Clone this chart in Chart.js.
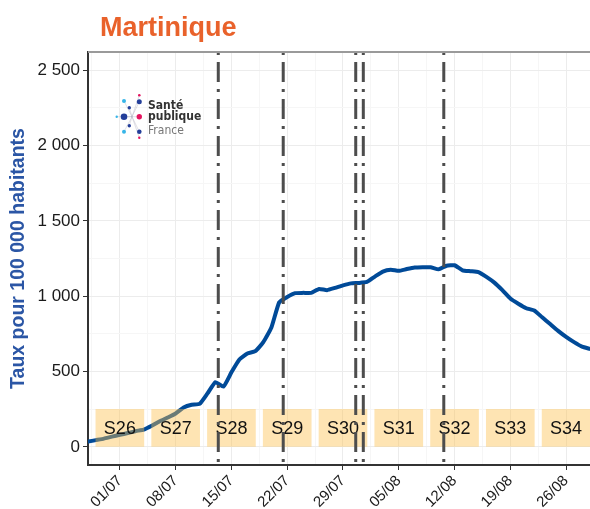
<!DOCTYPE html>
<html>
<head>
<meta charset="utf-8">
<script src="https://cdn.jsdelivr.net/npm/chart.js@4/dist/chart.umd.min.js"></script>
<style>
  body { margin: 0; background: #fff; }
  #wrap { width: 590px; height: 509px; }
</style>
</head>
<body>
<div id="wrap"><canvas id="chart" width="590" height="509"></canvas></div>
<script>
// day 0 = 01/07, first value is 27/06
const firstDay = -4;
const rates = [
  35, 45, 55, 68, 80, 92, 105, 115, 140, 170, 195, 222, 262, 280, 285, 355,
  430, 400, 495, 580, 620, 635, 695, 790, 960, 995, 1020, 1022, 1022, 1048, 1040, 1055,
  1072, 1085, 1088, 1095, 1130, 1163, 1175, 1168, 1180, 1190, 1192, 1192, 1178, 1202, 1205, 1172,
  1166, 1160, 1128, 1090, 1040, 985, 950, 920, 905, 860, 815, 770, 730, 695, 665, 650
];

const dateTicks = [0, 7, 14, 21, 28, 35, 42, 49, 56];
const dateLabels = ['01/07', '08/07', '15/07', '22/07', '29/07', '05/08', '12/08', '19/08', '26/08'];

const weekCenters = [0, 7, 14, 21, 28, 35, 42, 49, 56];
const weekLabels = ['S26', 'S27', 'S28', 'S29', 'S30', 'S31', 'S32', 'S33', 'S34'];
const weekBand = [0, 250];

const yTicks = [0, 500, 1000, 1500, 2000, 2500];

// dates of the dash-dot markers (days from 01/07)
const markerDays = [12.35, 20.5, 29.6, 30.55, 40.65];

const BLUE = '#004a98';

function fmt(v) {
  return String(v).replace(/\B(?=(\d{3})+(?!\d))/g, ' ');
}

const overlay = {
  id: 'overlay',
  afterDatasetsDraw(chart) {
    const ctx = chart.ctx;
    const x = chart.scales.x;
    const area = chart.chartArea;

    // week labels on boxes
    const meta = chart.getDatasetMeta(0);
    ctx.save();
    ctx.fillStyle = '#111';
    ctx.font = '18px "Liberation Sans", Arial, sans-serif';
    ctx.textAlign = 'center';
    ctx.textBaseline = 'middle';
    meta.data.forEach((el, i) => {
      ctx.fillText(weekLabels[i], el.x, (el.y + el.base) / 2 + 1);
    });
    ctx.restore();

    // dash-dot markers
    ctx.save();
    ctx.strokeStyle = '#4d4d4d';
    ctx.lineWidth = 3;
    ctx.setLineDash([3, 7, 20, 7]);
    markerDays.forEach(d => {
      const px = x.getPixelForValue(d);
      ctx.beginPath();
      ctx.moveTo(px, area.top);
      ctx.lineTo(px, area.bottom);
      ctx.stroke();
    });
    ctx.restore();

    // top panel border
    ctx.save();
    ctx.strokeStyle = '#9a9a9a';
    ctx.lineWidth = 2;
    ctx.beginPath();
    ctx.moveTo(area.left, area.top);
    ctx.lineTo(area.right, area.top);
    ctx.stroke();
    ctx.restore();
  },
  afterDraw(chart) {
    const ctx = chart.ctx;
    ctx.save();
    // title
    ctx.fillStyle = '#e9622b';
    ctx.font = 'bold 27px "Liberation Sans", Arial, sans-serif';
    ctx.textBaseline = 'alphabetic';
    ctx.fillText('Martinique', 100, 36);

    // logo
    const dots = [
      [124, 101, 2, '#36b5e8'], [139.3, 101.7, 2.5, '#243f9a'], [139.3, 95.3, 1.3, '#e4145f'],
      [129.3, 107.7, 1.7, '#243f9a'], [116.7, 116.7, 1.2, '#36b5e8'], [124, 116.7, 3.3, '#243f9a'],
      [139.3, 116.7, 2.7, '#e4145f'], [129.3, 125.7, 1.7, '#243f9a'], [124, 131.7, 2, '#36b5e8'],
      [139.3, 131.7, 2.3, '#243f9a'], [139.3, 137.7, 1.2, '#e4145f']
    ];
    ctx.strokeStyle = 'rgba(150,150,170,0.5)';
    ctx.lineWidth = 0.6;
    dots.forEach(d => {
      ctx.beginPath();
      ctx.moveTo(132, 116.7);
      ctx.lineTo(d[0], d[1]);
      ctx.stroke();
    });
    dots.forEach(d => {
      ctx.fillStyle = d[3];
      ctx.beginPath();
      ctx.arc(d[0], d[1], d[2], 0, Math.PI * 2);
      ctx.fill();
    });
    ctx.textBaseline = 'middle';
    ctx.fillStyle = '#333';
    ctx.font = 'bold 12px "DejaVu Sans Condensed", "Liberation Sans Narrow", sans-serif';
    ctx.fillText('Santé', 148, 105.5);
    ctx.fillText('publique', 148, 117);
    ctx.fillStyle = '#777';
    ctx.font = '12px "DejaVu Sans Condensed", "Liberation Sans Narrow", sans-serif';
    ctx.fillText('France', 148, 130.5);
    ctx.restore();
  }
};

new Chart(document.getElementById('chart'), {
  data: {
    datasets: [
      {
        type: 'bar',
        order: 0,
        data: weekCenters.map(c => ({ x: c, y: weekBand })),
        backgroundColor: 'rgba(252, 191, 73, 0.42)',
        borderWidth: 0,
        barThickness: 48
      },
      {
        type: 'line',
        order: 1,
        data: rates.map((v, i) => ({ x: firstDay + i, y: v })),
        borderColor: BLUE,
        borderWidth: 4,
        pointRadius: 0,
        tension: 0.15,
        borderJoinStyle: 'round',
        borderCapStyle: 'round'
      }
    ]
  },
  options: {
    responsive: false,
    animation: false,
    layout: { padding: { top: 52, right: 0, left: 0, bottom: 0 } },
    plugins: {
      legend: { display: false },
      title: { display: false },
      tooltip: { enabled: false }
    },
    scales: {
      x: {
        type: 'linear',
        min: -4,
        max: 59,
        offset: false,
        afterFit(scale) { scale.height = 44; },
        afterBuildTicks(scale) {
          const t = [];
          for (let v = -3.5; v <= 59; v += 3.5) t.push({ value: v });
          scale.ticks = t;
        },
        ticks: {
          autoSkip: false,
          maxRotation: 45,
          minRotation: 45,
          padding: 2,
          color: '#1a1a1a',
          font: { size: 15, family: '"Liberation Sans", Arial, sans-serif' },
          callback(v) {
            const i = dateTicks.indexOf(v);
            return i >= 0 ? dateLabels[i] : '';
          }
        },
        grid: {
          offset: false,
          color: ctx => (ctx.tick && dateTicks.includes(ctx.tick.value)) ? '#ececec' : '#f6f6f6',
          tickColor: ctx => (ctx.tick && dateTicks.includes(ctx.tick.value)) ? '#333' : 'rgba(0,0,0,0)',
          tickLength: 5,
          lineWidth: 1
        },
        border: { color: '#333', width: 2 }
      },
      y: {
        type: 'linear',
        min: -120,
        max: 2620,
        afterFit(scale) { scale.width = 88; },
        afterBuildTicks(scale) {
          const t = [];
          for (let v = 0; v <= 2500; v += 250) t.push({ value: v });
          scale.ticks = t;
        },
        ticks: {
          padding: 3,
          color: '#1a1a1a',
          font: { size: 17, family: '"Liberation Sans", Arial, sans-serif' },
          callback(v) { return yTicks.includes(v) ? fmt(v) : ''; }
        },
        grid: {
          color: ctx => (ctx.tick && yTicks.includes(ctx.tick.value)) ? '#ececec' : '#f6f6f6',
          tickColor: ctx => (ctx.tick && yTicks.includes(ctx.tick.value)) ? '#333' : 'rgba(0,0,0,0)',
          tickLength: 5,
          lineWidth: 1
        },
        border: { color: '#333', width: 2 },
        title: {
          display: true,
          text: 'Taux pour 100 000 habitants',
          color: '#2b56a5',
          font: { size: 19.5, weight: 'bold', family: '"Liberation Sans", Arial, sans-serif' },
          padding: { top: 7, bottom: 0 }
        }
      }
    }
  },
  plugins: [overlay]
});
</script>
</body>
</html>
